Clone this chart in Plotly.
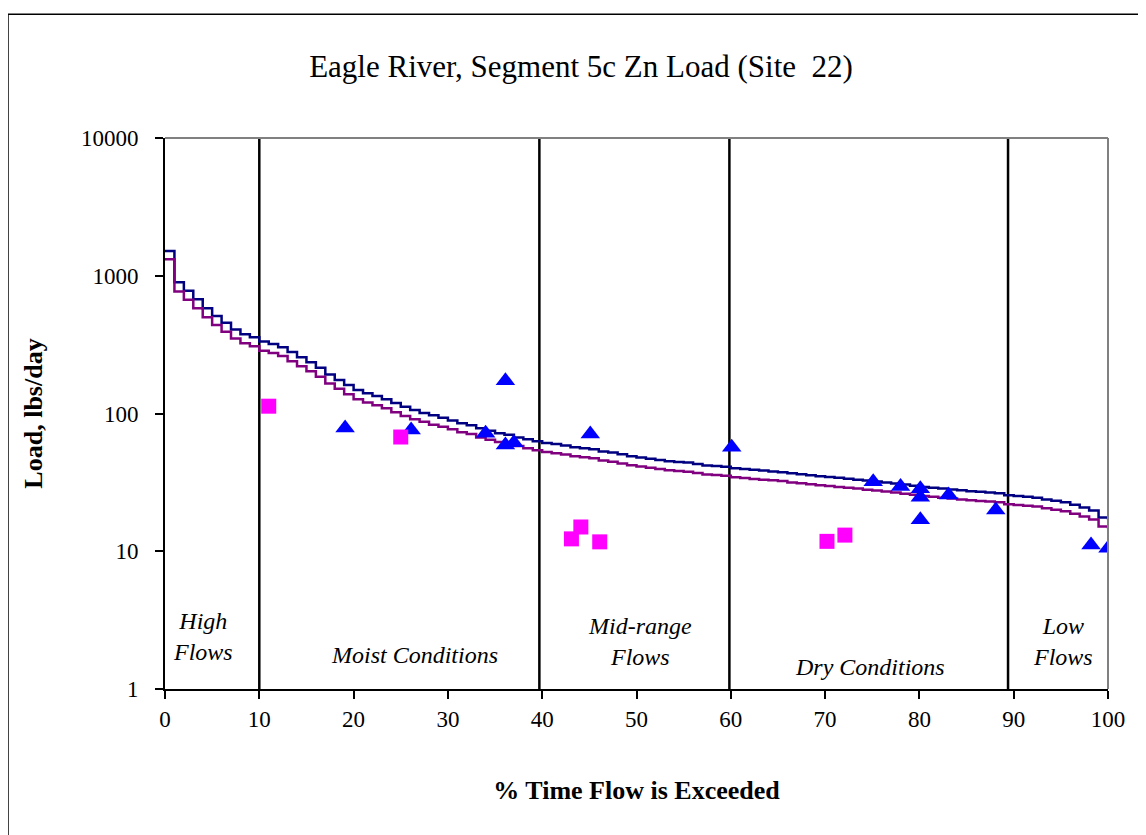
import plotly.graph_objects as go
import math

# Load duration curves (step values at each 1% of time flow exceeded)
pct = list(range(0, 101))
tmdl = [1515, 896, 778, 674, 580, 510, 456, 408, 376, 358,
        333, 320, 303, 279, 256, 236, 215, 192, 175, 161,
        148, 140, 134, 127, 119, 112, 106, 101, 97, 93,
        89, 85, 82, 78, 75, 72, 70, 67, 65, 63,
        61, 60, 58.5, 57, 56, 55, 53, 52, 50.5, 49,
        48, 47, 46, 45, 44.5, 44, 43, 42, 41.5, 41,
        40, 39.5, 39, 38.5, 38, 37.5, 36.8, 36.2, 35.6, 35.1,
        34.6, 34.1, 33.6, 33.1, 32.6, 32.1, 31.5, 31, 30.5, 29.9,
        29.3, 28.9, 28.5, 28.1, 27.7, 27.3, 27, 26.7, 26.4, 25.5,
        25.2, 24.9, 24.5, 23.8, 23.3, 22.7, 21.8, 20.8, 19.8, 17.6,
        17]
tmdl_mos = [1320, 770, 669, 580, 499, 439, 392, 351, 323, 308,
            286, 275, 261, 240, 220, 203, 185, 165, 151, 138,
            127, 120, 115, 109, 102, 96, 91, 87, 83, 80,
            77, 73, 71, 67, 64.5, 62, 60, 58, 56, 54,
            52.5, 51.5, 50.3, 49, 48.2, 47.3, 45.6, 44.7, 43.4, 42.1,
            41.3, 40.4, 39.6, 38.7, 38.3, 37.8, 37, 36.1, 35.7, 35.3,
            34.4, 34, 33.5, 33.1, 32.7, 32.3, 31.6, 31.1, 30.6, 30.2,
            29.8, 29.3, 28.9, 28.5, 28, 27.6, 27.1, 26.7, 26.2, 25.7,
            25.2, 24.9, 24.5, 24.2, 23.8, 23.5, 23.2, 23, 22.7, 21.9,
            21.7, 21.4, 21.1, 20.5, 20, 19.5, 18.7, 17.9, 17, 15.1,
            14.6]

# Observed loads
tri_x = [19.1, 26.1, 34.0, 36.1, 36.1, 37.0, 45.1, 60.1, 75.1, 78.0,
         80.1, 80.1, 80.1, 83.1, 88.1, 98.2, 100.0]
tri_y = [78.5, 76, 72, 173, 59, 61.4, 71, 57, 32, 29.5,
         28.4, 24.7, 16.9, 25.6, 19.9, 11.1, 10.5]
sq_x = [11.0, 25.0, 43.1, 44.1, 46.1, 70.2, 72.1]
sq_y = [113, 67.5, 12.3, 15, 11.7, 11.8, 13.1]

# Flow regime boundaries and labels
bounds = [10, 39.7, 59.85, 89.4]
zone_labels = ["<i>High<br>Flows</i>", "<i>Moist Conditions</i>", "<i>Mid-range<br>Flows</i>",
               "<i>Dry Conditions</i>", "<i>Low<br>Flows</i>"]
zone_x = [4.0, 26.5, 50.4, 74.8, 95.2]
zone_y = [2.4, 1.77, 2.2, 1.45, 2.2]   # load values (log axis)

x_ticks = list(range(0, 101, 10))
y_ticks = [1, 10, 100, 1000, 10000]
y_tick_text = ["1", "10", "100", "1000", "10000"]

FONT = "Liberation Serif"

fig = go.Figure()

for b in bounds:
    fig.add_trace(go.Scatter(x=[b, b], y=[1, 10000], mode="lines",
                             line=dict(color="black", width=2.5),
                             hoverinfo="skip", showlegend=False))

fig.add_trace(go.Scatter(x=pct, y=tmdl, mode="lines", line_shape="hv",
                         line=dict(color="#000080", width=2.5), showlegend=False))
fig.add_trace(go.Scatter(x=pct, y=tmdl_mos, mode="lines", line_shape="hv",
                         line=dict(color="#800080", width=2.5), showlegend=False))

fig.add_trace(go.Scatter(x=tri_x, y=tri_y, mode="markers",
                         marker=dict(symbol="triangle-up", size=17, color="#0000FF",
                                     line=dict(width=0)), showlegend=False))
fig.add_trace(go.Scatter(x=sq_x, y=sq_y, mode="markers",
                         marker=dict(symbol="square", size=15, color="#FF00FF",
                                     line=dict(width=0)), showlegend=False))

for t, zx, zy in zip(zone_labels, zone_x, zone_y):
    fig.add_annotation(x=zx, y=math.log10(zy), yref="y", xref="x", text=t, showarrow=False,
                       font=dict(family=FONT, size=24, color="black"))

# grey top/right frame of plot area
fig.add_shape(type="line", xref="paper", yref="paper", x0=0, x1=1, y0=1, y1=1,
              line=dict(color="#808080", width=2))
fig.add_shape(type="line", xref="paper", yref="paper", x0=1, x1=1, y0=0, y1=1,
              line=dict(color="#808080", width=2))
# outer chart border
fig.add_shape(type="line", xref="paper", yref="paper", x0=-0.1665, x1=1.1, y0=1.2245, y1=1.2245,
              line=dict(color="black", width=1.5))
fig.add_shape(type="line", xref="paper", yref="paper", x0=-0.1665, x1=-0.1665, y0=-0.3, y1=1.2245,
              line=dict(color="black", width=1.5))

fig.update_layout(
    width=1146, height=835,
    margin=dict(l=157, r=46, t=130, b=154),
    paper_bgcolor="white", plot_bgcolor="white",
    title=dict(text="Eagle River, Segment 5c Zn Load (Site  22)", x=0.5, xanchor="center",
               xref="container", y=0.93, yanchor="middle",
               font=dict(family=FONT, size=31, color="black")),
    xaxis=dict(range=[0, 100], tickvals=x_ticks, showgrid=False, zeroline=False,
               showline=True, linecolor="black", linewidth=2,
               ticks="outside", ticklen=8, tickwidth=1.5, tickcolor="black",
               tickfont=dict(family=FONT, size=23, color="black"),
               title=dict(text="<b>% Time Flow is Exceeded</b>", standoff=50,
                          font=dict(family=FONT, size=26, color="black"))),
    yaxis=dict(type="log", range=[0, 4], tickvals=y_ticks, ticktext=y_tick_text,
               showgrid=False, zeroline=False, showline=True, linecolor="black", linewidth=2,
               ticks="outside", ticklen=8, tickwidth=1.5, tickcolor="black",
               ticklabelstandoff=12,
               tickfont=dict(family=FONT, size=23, color="black"),
               title=dict(text="<b>Load, lbs/day</b>", standoff=31,
                          font=dict(family=FONT, size=26, color="black"))),
)

fig.write_html("out.html")
